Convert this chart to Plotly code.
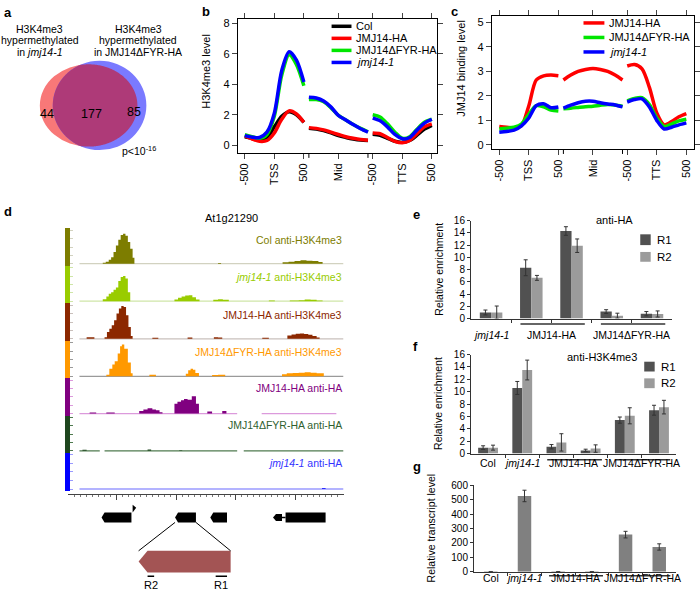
import numpy as np
import plotly.graph_objects as go

W, H = 700, 597
FONT = 'Arial, Liberation Sans, sans-serif'


def fx(p):
    return p / W


def fy(p):
    return 1 - p / H


# ---------------- data ----------------
# a: Venn counts
venn_only_jmj = 44
venn_both = 177
venn_only_fyr = 85

# b, c: metagene profiles, three segments (TSS +-500 | gene body | TTS +-500)
seg1_x = [0, 0.25, 0.5, 0.75, 1.0, 1.25, 1.5, 1.75, 2.0]
seg2_x = [2.17, 2.42, 2.67, 2.92, 3.17, 3.42, 3.67, 3.92, 4.17]
seg3_x = [4.33, 4.58, 4.83, 5.08, 5.33, 5.58, 5.83, 6.08, 6.33]
prof_ticks = [0, 1, 2, 3.17, 4.33, 5.33, 6.33]
prof_ticktext = ['-500', 'TSS', '500', 'Mid', '-500', 'TTS', '500']
body_edges = [2.17, 4.17]

b_col = [0.55, 0.45, 0.35, 0.5, 1.2, 1.9, 2.2, 2.0, 1.5,
         1.1, 1.05, 0.95, 0.8, 0.62, 0.5, 0.4, 0.33, 0.3,
         0.72, 0.65, 0.45, 0.25, 0.18, 0.3, 0.65, 1.05, 1.3]
b_ha = [0.6, 0.4, 0.25, 0.3, 0.8, 1.7, 2.25, 2.05, 1.5,
        1.15, 1.1, 1.0, 0.85, 0.7, 0.55, 0.45, 0.37, 0.32,
        0.8, 0.75, 0.5, 0.25, 0.15, 0.3, 0.75, 1.2, 1.4]
b_fyr = [0.68, 0.55, 0.45, 0.7, 1.9, 4.6, 5.95, 5.3, 3.9,
         3.0, 3.0, 2.85, 2.45, 1.95, 1.65, 1.35, 1.1, 0.88,
         2.0, 1.85, 1.4, 0.85, 0.45, 0.55, 1.05, 1.5, 1.7]
b_jmj = [0.62, 0.52, 0.5, 0.85, 2.1, 4.9, 6.15, 5.6, 4.15,
         3.15, 3.1, 2.9, 2.5, 1.95, 1.65, 1.35, 1.08, 0.85,
         1.78, 1.6, 1.2, 0.7, 0.42, 0.5, 1.0, 1.45, 1.7]

c_ha = [0.75, 0.72, 0.7, 0.78, 1.6, 2.65, 2.82, 2.85, 2.82,
        2.65, 2.85, 3.0, 3.08, 3.12, 3.08, 3.0, 2.85, 2.65,
        3.22, 3.28, 3.1, 2.35, 1.3, 0.82, 0.95, 1.15, 1.28]
c_fyr = [0.65, 0.68, 0.72, 0.85, 1.25, 1.6, 1.55, 1.42, 1.38,
         1.48, 1.5, 1.53, 1.56, 1.58, 1.62, 1.65, 1.63, 1.58,
         1.8, 1.9, 1.93, 1.65, 1.1, 0.75, 0.85, 0.98, 1.05]
c_jmj = [0.52, 0.55, 0.6, 0.78, 1.1, 1.6, 1.68, 1.52, 1.55,
         1.5, 1.62, 1.72, 1.78, 1.78, 1.72, 1.67, 1.63, 1.55,
         1.75, 1.85, 1.88, 1.55, 1.0, 0.65, 0.72, 0.82, 0.9]

# d: browser tracks (position in kb, relative signal)
col_k4_x = [0.38, 0.77, 0.82, 0.87, 0.91, 0.95, 0.99, 1.03, 1.07, 1.11, 1.15, 1.19, 1.23, 1.27, 1.30,
            2.70, 2.75, 3.70, 3.78, 3.88, 3.98, 4.08, 4.18, 4.28, 4.38, 4.45, 4.80]
col_k4_y = [0, 0.03, 0.06, 0.12, 0.19, 0.35, 0.55, 0.72, 0.86, 0.9, 0.84, 0.65, 0.45, 0.18, 0,
            0.02, 0, 0, 0.04, 0.06, 0.08, 0.1, 0.09, 0.08, 0.05, 0, 0]
jmj_k4_x = [0.38, 0.77, 0.83, 0.87, 0.91, 0.95, 0.99, 1.03, 1.07, 1.11, 1.15, 1.19, 1.23,
            1.90, 1.97, 2.03, 2.09, 2.15, 2.21, 2.27, 2.33, 2.39, 2.55, 2.62, 2.70, 2.78, 2.88,
            3.55, 3.65, 3.90, 4.05, 4.15, 4.25, 4.35, 4.45, 4.80]
jmj_k4_y = [0, 0.06, 0.14, 0.22, 0.27, 0.34, 0.41, 0.6, 0.72, 0.75, 0.68, 0.27, 0,
            0, 0.05, 0.1, 0.14, 0.17, 0.18, 0.12, 0.05, 0, 0, 0.04, 0.06, 0.04, 0,
            0.02, 0, 0.02, 0.03, 0.05, 0.04, 0.02, 0, 0]
ha_k4_x = [0.38, 0.50, 0.63, 0.80, 0.84, 0.88, 0.92, 0.96, 1.00, 1.04, 1.08, 1.12, 1.16, 1.20, 1.24, 1.27,
           1.60, 1.70, 2.19, 2.27, 2.63, 2.70, 2.77, 3.44, 3.55,
           3.86, 3.93, 4.00, 4.07, 4.14, 4.21, 4.28, 4.35, 4.40, 4.80]
ha_k4_y = [0, 0.05, 0, 0.05, 0.2, 0.3, 0.4, 0.55, 0.75, 0.9, 0.98, 0.95, 0.7, 0.35, 0.08, 0,
           0.03, 0, 0.04, 0, 0.05, 0.04, 0, 0.03, 0,
           0.1, 0.13, 0.15, 0.16, 0.14, 0.12, 0.08, 0.04, 0, 0]
fyr_k4_x = [0.38, 0.83, 0.88, 0.93, 0.97, 1.02, 1.06, 1.09, 1.13, 1.19, 1.24, 1.27, 1.55, 1.66,
            2.16, 2.20, 2.24, 2.28, 2.32, 2.38, 2.60, 2.70, 2.82,
            3.77, 3.85, 3.95, 4.05, 4.15, 4.25, 4.35, 4.47, 4.80]
fyr_k4_y = [0, 0.05, 0.23, 0.35, 0.45, 0.68, 0.9, 0.95, 0.82, 0.41, 0.09, 0, 0.05, 0,
            0.08, 0.18, 0.23, 0.2, 0.1, 0, 0.04, 0.05, 0,
            0.06, 0.09, 0.1, 0.11, 0.12, 0.11, 0.09, 0, 0]
ha_ha_x = [0.38, 0.55, 0.66, 0.83, 0.97, 1.38, 1.45, 1.52, 1.60, 1.66, 1.72, 1.77,
           1.97, 2.02, 2.08, 2.13, 2.19, 2.26, 2.33, 2.38, 2.52, 2.60, 2.77, 2.84, 3.02]
ha_ha_y = [0, 0.03, 0, 0.03, 0, 0.08, 0.12, 0.16, 0.12, 0.1, 0.04, 0,
           0.3, 0.36, 0.4, 0.44, 0.42, 0.52, 0.3, 0, 0.06, 0, 0.08, 0, 0]
fyr_ha_x = [0.38, 0.43, 0.50, 1.52, 1.58, 2.05, 2.10, 4.80]
fyr_ha_y = [0, 0.03, 0, 0.04, 0, 0.02, 0, 0]
jmj_ha_x = [0.38, 4.44, 4.50, 4.80]
jmj_ha_y = [0, 0.02, 0, 0]

track_names = ['Col anti-H3K4me3', '<i>jmj14-1</i> anti-H3K4me3', 'JMJ14-HA anti-H3K4me3',
               'JMJ14ΔFYR-HA anti-H3K4me3', 'JMJ14-HA anti-HA', 'JMJ14ΔFYR-HA anti-HA',
               '<i>jmj14-1</i> anti-HA']
track_colors = ['#7d7d00', '#99cc00', '#8c2800', '#ff9900', '#800080', '#1e461e', '#0000ff']
track_text_colors = ['#7d7d00', '#99cc00', '#8c2800', '#ff9900', '#800080', '#2f5f2f', '#3333ff']
track_base_colors = ['#d2d2c0', '#cfe6a8', '#c9c0bc', '#9a9a9a', '#dc9adc', '#4f7a4f', '#9a9aff']
track_base_segs = [[(0.38, 4.8)], [(0.38, 4.8)], [(0.38, 4.8)], [(0.38, 4.8)],
                   [(0.38, 3.02), (3.43, 4.68)], [(0.38, 0.72), (0.8, 3.02), (3.13, 4.8)],
                   [(0.38, 4.8)]]
track_x = [col_k4_x, jmj_k4_x, ha_k4_x, fyr_k4_x, ha_ha_x, fyr_ha_x, jmj_ha_x]
track_y = [col_k4_y, jmj_k4_y, ha_k4_y, fyr_k4_y, ha_ha_y, fyr_ha_y, jmj_ha_y]

# gene models (kb): exons, arrow tips point left (minus strand)
gene_exons = [(0.75, 1.25, True), (1.98, 2.33, True), (2.57, 2.85, True), (3.62, 3.77, True), (3.83, 4.50, False)]
zoom_gene = (1.37, 2.91)
primers = [('R2', 1.52, 1.63), ('R1', 2.66, 2.85)]

# e, f, g: qPCR bars
e_groups = ['jmj14-1', 'JMJ14-HA', 'JMJ14-HA', 'JMJ14ΔFYR-HA', 'JMJ14ΔFYR-HA']
e_r1 = [1.0, 8.3, 14.3, 1.15, 0.8]
e_r1_err = [0.4, 1.3, 0.7, 0.3, 0.35]
e_r2 = [1.0, 6.65, 11.9, 0.48, 0.75]
e_r2_err = [1.05, 0.4, 1.1, 0.4, 0.5]

f_groups = ['Col', 'jmj14-1', 'JMJ14-HA', 'JMJ14-HA', 'JMJ14ΔFYR-HA', 'JMJ14ΔFYR-HA']
f_r1 = [0.95, 10.6, 1.1, 0.5, 5.4, 7.0]
f_r1_err = [0.3, 1.05, 0.35, 0.2, 0.5, 0.8]
f_r2 = [0.95, 13.5, 1.8, 0.8, 6.1, 7.5]
f_r2_err = [0.4, 1.6, 1.4, 0.6, 1.3, 1.1]

g_groups = f_groups
g_vals = [1, 527, 1, 1, 258, 172]
g_err = [0.5, 40, 0.5, 0.5, 23, 22]

# ---------------- figure ----------------
fig = go.Figure()
shapes = []
annotations = []


def txt(x, y, s, size=11, color='black', xa='center', **kw):
    annotations.append(dict(x=fx(x), y=fy(y), xref='paper', yref='paper', text=s, showarrow=False,
                            xanchor=xa, yanchor='middle', font=dict(family=FONT, size=size, color=color), **kw))


def letter(x, y, s):
    txt(x, y, '<b>%s</b>' % s, size=13, xa='left')


# ---- a: Venn ----
e_red = (89, 101.5, 49, 42)
e_blue = (100, 101.5, 47, 45.5)
for (cx, cy, rx, ry), col in [(e_red, '#f87878'), (e_blue, '#7a7aff')]:
    shapes.append(dict(type='circle', xref='paper', yref='paper', x0=fx(cx - rx), x1=fx(cx + rx),
                       y0=fy(cy + ry), y1=fy(cy - ry), fillcolor=col, line=dict(width=0)))
t = np.linspace(0, 2 * np.pi, 721)
p_red = np.c_[e_red[0] + e_red[2] * np.cos(t), e_red[1] + e_red[3] * np.sin(t)]
p_blue = np.c_[e_blue[0] + e_blue[2] * np.cos(t), e_blue[1] + e_blue[3] * np.sin(t)]
in_blue = ((p_red[:, 0] - e_blue[0]) / e_blue[2]) ** 2 + ((p_red[:, 1] - e_blue[1]) / e_blue[3]) ** 2 <= 1
in_red = ((p_blue[:, 0] - e_red[0]) / e_red[2]) ** 2 + ((p_blue[:, 1] - e_red[1]) / e_red[3]) ** 2 <= 1
lens = np.vstack([p_red[in_blue], p_blue[in_red]])
ang = np.arctan2(lens[:, 1] - 101.5, lens[:, 0] - 95.5)
lens = lens[np.argsort(ang)]
path = 'M ' + ' L '.join('%.5f,%.5f' % (fx(x), fy(y)) for x, y in lens) + ' Z'
shapes.append(dict(type='path', xref='paper', yref='paper', path=path, fillcolor='#ae3a78', line=dict(width=0)))
txt(47.5, 110, str(venn_only_jmj), size=12.5)
txt(91.7, 110, str(venn_both), size=12.5)
txt(135, 108, str(venn_only_fyr), size=12.5)
for i, s in enumerate(['H3K4me3', 'hypermethylated', 'in <i>jmj14-1</i>']):
    txt(40, 23 + 12 * i, s, size=10.5)
for i, s in enumerate(['H3K4me3', 'hypermethylated', 'in JMJ14ΔFYR-HA']):
    txt(139, 23 + 12 * i, s, size=10.5)
txt(121, 147, 'p&lt;10<sup>-16</sup>', size=10.5, xa='left')
letter(2, 7, 'a')


# ---- b, c: profiles ----
def prof(vals):
    xs, ys = [], []
    for i, seg in enumerate([seg1_x, seg2_x, seg3_x]):
        if i:
            xs.append(None)
            ys.append(None)
        xs += seg
        ys += vals[9 * i:9 * i + 9]
    return xs, ys


b_series = [('Col', b_col, 'black'), ('JMJ14-HA', b_ha, '#ff0000'),
            ('JMJ14ΔFYR-HA', b_fyr, '#00e600'), ('<i>jmj14-1</i>', b_jmj, '#0000ff')]
c_series = [('JMJ14-HA', c_ha, '#ff0000'), ('JMJ14ΔFYR-HA', c_fyr, '#00e600'),
            ('<i>jmj14-1</i>', c_jmj, '#0000ff')]
for series, ax, leg, ybot in [(b_series, '', (333, 353, 20.7, 12.3), 150), (c_series, '2', (586, 607, 17.3, 14.8), 146)]:
    for k, (name, vals, col) in enumerate(series):
        xs, ys = prof(vals)
        fig.add_trace(go.Scatter(x=xs, y=ys, mode='lines', name=name, xaxis='x' + ax, yaxis='y' + ax,
                                 line=dict(color=col, width=3.5, shape='spline', smoothing=0.8),
                                 showlegend=False, hoverinfo='skip'))
        yy = leg[2] + k * leg[3]
        shapes.append(dict(type='line', xref='paper', yref='paper', x0=fx(leg[0]), x1=fx(leg[1]),
                           y0=fy(yy), y1=fy(yy), line=dict(color=col, width=3.5)))
        txt(leg[1] + 3, yy, name, size=11, xa='left')
    # unlabeled ticks at the gene-body edges
    for xe in body_edges:
        shapes.append(dict(type='line', xref='x' + ax, yref='paper', x0=xe, x1=xe, y0=fy(ybot), y1=fy(ybot + 5),
                           line=dict(color='black', width=1)))

prof_axis = dict(showline=True, mirror='ticks', linecolor='black', linewidth=1.2, ticks='outside',
                 ticklen=5, tickwidth=1, showgrid=False, zeroline=False, tickfont=dict(size=11))
txt(207, 67, 'H3K4me3 level', size=11, textangle=-90)
txt(463, 64, 'JMJ14 binding level', size=11, textangle=-90)
letter(201, 6, 'b')
letter(451, 6, 'c')

# ---- d: tracks ----
track_bounds = [(227, 265), (265, 303.3), (303.3, 341.7), (341.7, 380), (380, 418), (418, 456), (456, 495)]
track_label_y = [239, 277, 315, 353, 390, 428, 466]
for i in range(7):
    n = str(3 + i)
    col = track_colors[i]
    fig.add_trace(go.Scatter(x=track_x[i], y=track_y[i], mode='lines', fill='tozeroy', fillcolor=col,
                             line=dict(color=col, width=0, shape='hv'), xaxis='x' + n, yaxis='y' + n,
                             showlegend=False, hoverinfo='skip'))
    for a0, a1 in track_base_segs[i]:
        shapes.append(dict(type='line', xref='x' + n, yref='y' + n, x0=a0, x1=a1, y0=0, y1=0,
                           layer='below', line=dict(color=track_base_colors[i], width=1.3)))
    txt(345, track_label_y[i], track_names[i], size=10.5, color=track_text_colors[i], xa='right')

# gene models
gy, gh = 522, 10
for s, e, arrow in gene_exons:
    tip = 0.05 if arrow else 0
    h = gh if e - s > 0.2 else 7
    xs = [s, s + tip, e, e, s + tip, s]
    ys = [gy, gy - h / 2, gy - h / 2, gy + h / 2, gy + h / 2, gy]
    fig.add_trace(go.Scatter(x=xs, y=ys, mode='lines', fill='toself', fillcolor='black',
                             line=dict(color='black', width=0), xaxis='x10', yaxis='y10',
                             showlegend=False, hoverinfo='skip'))
fig.add_trace(go.Scatter(x=[3.77, 3.83], y=[gy, gy], mode='lines', line=dict(color='black', width=1.5),
                         xaxis='x10', yaxis='y10', showlegend=False, hoverinfo='skip'))
fig.add_trace(go.Scatter(x=[1.27, 1.27, 1.33, 1.27], y=[509, 517, 512, 509], mode='lines', fill='toself',
                         fillcolor='black', line=dict(color='black', width=0), xaxis='x10', yaxis='y10',
                         showlegend=False, hoverinfo='skip'))
# zoom-in
z0, z1 = zoom_gene
for gx, zx in [(gene_exons[1][0], z0), (gene_exons[1][1], z1)]:
    shapes.append(dict(type='line', xref='x10', yref='y10', x0=gx, x1=zx, y0=527, y1=556,
                       line=dict(color='black', width=1)))
fig.add_trace(go.Scatter(x=[z0, z0 + 0.15, z1, z1, z0 + 0.15, z0], y=[567, 556, 556, 578, 578, 567],
                         mode='lines', fill='toself', fillcolor='#a35454', line=dict(color='#a35454', width=0),
                         xaxis='x10', yaxis='y10', showlegend=False, hoverinfo='skip'))
for name, p0, p1 in primers:
    shapes.append(dict(type='line', xref='x10', yref='y10', x0=p0, x1=p1, y0=582, y1=582,
                       line=dict(color='black', width=1.5)))
    annotations.append(dict(x=(p0 + p1) / 2, y=590.5, xref='x10', yref='y10', text=name, showarrow=False,
                            font=dict(family=FONT, size=11, color='black')))
txt(232, 216, 'At1g21290', size=11)
letter(2, 210, 'd')


# ---- e, f, g: bars ----
def group_labels(groups, ax, y_line, y_text):
    runs = []
    for i, g in enumerate(groups):
        if runs and runs[-1][0] == g:
            runs[-1][2] = i
        else:
            runs.append([g, i, i])
    for g, i0, i1 in runs:
        label = '<i>%s</i>' % g if g == 'jmj14-1' else g
        annotations.append(dict(x=(i0 + i1) / 2, y=fy(y_text), xref=ax, yref='paper', text=label,
                                showarrow=False, font=dict(family=FONT, size=10.5, color='black')))
        if i1 > i0:
            shapes.append(dict(type='line', xref=ax, yref='paper', x0=i0 - 0.27, x1=i1 + 0.33,
                               y0=fy(y_line), y1=fy(y_line), line=dict(color='#333', width=1.5)))


def rep_bars(r1, r1e, r2, r2e, n, w):
    idx = list(range(len(r1)))
    for vals, err, col, off in [(r1, r1e, '#515151', -w), (r2, r2e, '#9b9b9b', 0)]:
        fig.add_trace(go.Bar(x=idx, y=vals, width=w, offset=off, marker=dict(color=col, line=dict(width=0)),
                             error_y=dict(type='data', array=err, color='#333', thickness=1, width=2),
                             xaxis='x' + n, yaxis='y' + n, showlegend=False, hoverinfo='skip'))


rep_bars(e_r1, e_r1_err, e_r2, e_r2_err, '11', 0.28)
rep_bars(f_r1, f_r1_err, f_r2, f_r2_err, '12', 0.29)
fig.add_trace(go.Bar(x=list(range(len(g_vals))), y=g_vals, width=0.4, marker=dict(color='#808080', line=dict(width=0)),
                     error_y=dict(type='data', array=g_err, color='#333', thickness=1, width=2),
                     xaxis='x13', yaxis='y13', showlegend=False, hoverinfo='skip'))

group_labels(e_groups, 'x11', 324.5, 336)
group_labels(f_groups, 'x12', 463, 475)
group_labels(g_groups, 'x13', 581.5, 592)

for (bx, by0, by1, tx), name, col in [((643, 233, 244, 658), 'R1', '#515151'), ((643, 251, 261, 658), 'R2', '#9b9b9b'),
                                      ((647, 363, 373, 662), 'R1', '#515151'), ((647, 380, 390, 662), 'R2', '#9b9b9b')]:
    shapes.append(dict(type='rect', xref='paper', yref='paper', x0=fx(bx), x1=fx(bx + 10.5), y0=fy(by1), y1=fy(by0),
                       fillcolor=col, line=dict(width=0)))
    txt(tx, (by0 + by1) / 2, name, size=11.5, xa='left')
txt(617, 218, 'anti-HA', size=11)
txt(605, 358, 'anti-H3K4me3', size=11)
txt(440, 269, 'Relative enrichment', size=10.5, textangle=-90)
txt(440, 406, 'Relative enrichment', size=10.5, textangle=-90)
txt(433, 533, 'Relative transcript level', size=10.5, textangle=-90)
letter(413, 213, 'e')
letter(413, 347, 'f')
letter(413, 470, 'g')

bar_x = dict(showline=True, linecolor='#333', linewidth=1, ticks='outside', ticklen=3, tickcolor='#333',
             showticklabels=False, showgrid=False, zeroline=False)
bar_y = dict(showline=True, linecolor='#333', linewidth=1, ticks='outside', ticklen=3, tickcolor='#333',
             showgrid=False, zeroline=False, tickfont=dict(size=10))

layout = dict(
    width=W, height=H, margin=dict(l=0, r=0, t=0, b=0), paper_bgcolor='white', plot_bgcolor='rgba(0,0,0,0)',
    font=dict(family=FONT, size=11, color='black'), showlegend=False, barmode='overlay',
    xaxis=dict(prof_axis, domain=[fx(239), fx(439)], range=[-0.23, 6.51], anchor='y',
               tickvals=prof_ticks, ticktext=prof_ticktext, tickangle=-90),
    yaxis=dict(prof_axis, domain=[fy(150), fy(13)], range=[-0.52, 8.32], anchor='x', tickvals=[0, 2, 4, 6, 8]),
    xaxis2=dict(prof_axis, domain=[fx(494), fx(697)], range=[-0.25, 6.59], anchor='y2',
                tickvals=prof_ticks, ticktext=prof_ticktext, tickangle=-90),
    yaxis2=dict(prof_axis, domain=[fy(146), fy(10)], range=[-0.17, 5.27], anchor='x2', tickvals=[0, 1, 2, 3, 4, 5]),
    xaxis10=dict(domain=[fx(68), fx(345)], range=[0.1833, 4.8], anchor='y10', side='top', showline=True,
                 linecolor='#444', linewidth=1, ticks='inside', ticklen=5, tickcolor='#444', tick0=0, dtick=1,
                 minor=dict(ticks='inside', ticklen=2, dtick=0.1, tick0=0, tickcolor='#777'),
                 showticklabels=False, showgrid=False, zeroline=False),
    yaxis10=dict(domain=[0, fy(499)], range=[597, 499], anchor='x10', visible=False),
    xaxis11=dict(bar_x, domain=[fx(473), fx(675)], range=[-0.5, 4.5], anchor='y11', tickvals=[0.5, 1.5, 2.5, 3.5]),
    yaxis11=dict(bar_y, domain=[fy(319), fy(219)], range=[0, 16], anchor='x11', dtick=2),
    xaxis12=dict(bar_x, domain=[fx(473), fx(679)], range=[-0.5, 5.5], anchor='y12', tickvals=[0.5, 1.5, 2.5, 3.5, 4.5]),
    yaxis12=dict(bar_y, domain=[fy(456.7), fy(355.7)], range=[0, 16], anchor='x12', dtick=2),
    xaxis13=dict(bar_x, domain=[fx(476), fx(679)], range=[-0.5, 5.5], anchor='y13', tickvals=[0.5, 1.5, 2.5, 3.5, 4.5]),
    yaxis13=dict(bar_y, domain=[fy(577.3), fy(489.3)], range=[0, 600], anchor='x13', dtick=100),
)
for i in range(7):
    n = str(3 + i)
    top, bot = track_bounds[i]
    layout['xaxis' + n] = dict(domain=[fx(70.5), fx(345)], range=[0.225, 4.8], anchor='y' + n, visible=False)
    layout['yaxis' + n] = dict(domain=[fy(bot), fy(top)], range=[-0.06, 1.06], anchor='x' + n, showline=True,
                               linecolor=track_colors[i], linewidth=5, ticks='inside', ticklen=3, tickwidth=1,
                               tickcolor=track_base_colors[i], tick0=0, dtick=0.25, showticklabels=False,
                               showgrid=False, zeroline=False)
layout['shapes'] = shapes
layout['annotations'] = annotations
fig.update_layout(**layout)

# page body has a default 8px margin; drop it so the figure sits at the window's corner
fig.write_html('out.html', config={'displayModeBar': False},
               post_script="document.body.style.margin='0';")
